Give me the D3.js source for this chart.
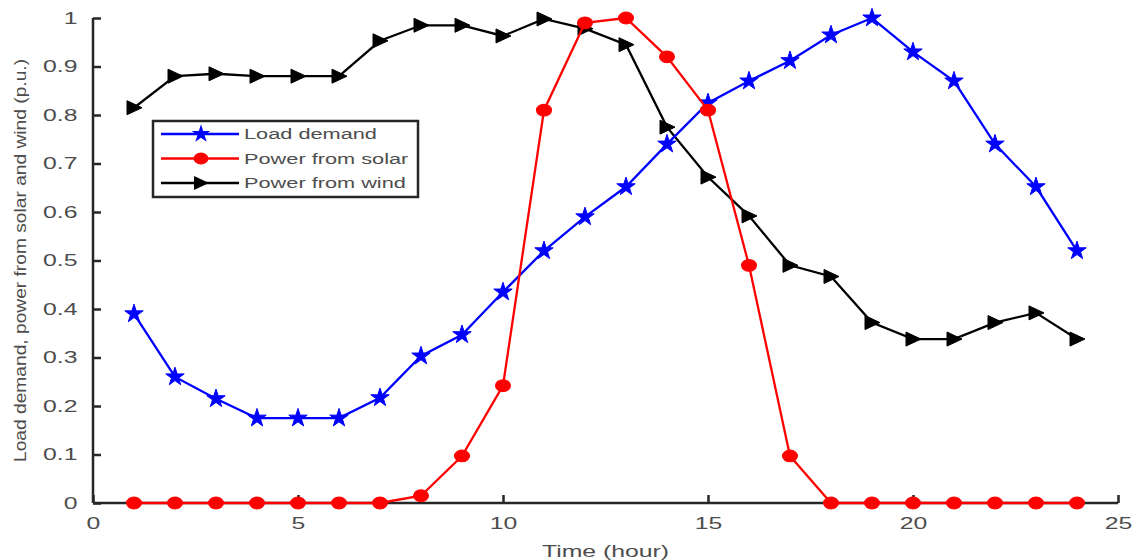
<!DOCTYPE html>
<html>
<head>
<meta charset="utf-8">
<script src="https://cdn.jsdelivr.net/npm/d3@7"></script>
<style>
  body { margin: 0; background: #fff; }
  svg text { font-family: "Liberation Sans", Arial, Helvetica, sans-serif; fill: #4d4d4d; }
</style>
</head>
<body>
<div id="chart"></div>
<script>
// hours 1..24
const hours = d3.range(1, 25);

const loadDemand = [0.39, 0.26, 0.215, 0.175, 0.175, 0.175, 0.217, 0.303, 0.347, 0.435,
    0.52, 0.59, 0.652, 0.74, 0.825, 0.87, 0.912, 0.965, 1.0, 0.93,
    0.87, 0.74, 0.652, 0.52];

const solarPower = [0, 0, 0, 0, 0, 0, 0, 0.015, 0.097, 0.242,
    0.81, 0.99, 1.0, 0.92, 0.81, 0.49, 0.097, 0, 0, 0,
    0, 0, 0, 0];

const windPower = [0.815, 0.88, 0.885, 0.88, 0.88, 0.88, 0.953, 0.985, 0.985, 0.963,
    0.998, 0.978, 0.945, 0.775, 0.672, 0.592, 0.49, 0.467, 0.372, 0.338,
    0.338, 0.372, 0.392, 0.338];

const xTicks = [0, 5, 10, 15, 20, 25];
const yTicks = d3.range(0, 11).map(d => d / 10);

const width = 1138, height = 560;
const margin = {top: 18, right: 20, bottom: 57, left: 93};
const stretch = 1.55; // text in the picture is wide

const svg = d3.select("#chart").append("svg")
    .attr("width", width)
    .attr("height", height);

const x = d3.scaleLinear().domain([0, 25]).range([margin.left, 1118]);
const y = d3.scaleLinear().domain([0, 1]).range([height - margin.bottom, margin.top]);

const axisColor = "#262626";

// axes (MATLAB style, ticks pointing inward, no box)
const xAxis = svg.append("g")
    .attr("transform", `translate(0,${y(0)})`)
    .call(d3.axisBottom(x).tickValues(xTicks).tickSize(-8).tickPadding(15).tickFormat(d3.format("d")));
const yAxis = svg.append("g")
    .attr("transform", `translate(${x(0)},0)`)
    .call(d3.axisLeft(y).tickValues(yTicks).tickSize(-8).tickPadding(10)
        .tickFormat(d => d === 0 ? "0" : d === 1 ? "1" : d3.format(".1f")(d)));

[xAxis, yAxis].forEach(g => {
    g.select(".domain").attr("stroke", axisColor).attr("stroke-width", 2.5);
    g.selectAll(".tick line").attr("stroke", axisColor).attr("stroke-width", 2.5);
    g.selectAll(".tick text")
        .style("font-size", "16px")
        .attr("fill", "#4d4d4d")
        .attr("transform", `scale(${stretch},1)`);
});
xAxis.select(".domain").attr("d", `M${x(0)},0H${x(25)}`);
yAxis.select(".domain").attr("d", `M0,${y(0)}V${y(1)}`);

// axis labels
svg.append("text")
    .attr("transform", `translate(${(x(0) + x(25)) / 2},557) scale(${stretch},1)`)
    .attr("text-anchor", "middle")
    .style("font-size", "16px")
    .text("Time (hour)");

svg.append("text")
    .attr("transform", `translate(26,${(y(0) + y(1)) / 2}) rotate(-90) scale(1.2,1)`)
    .attr("text-anchor", "middle")
    .style("font-size", "16px")
    .text("Load demand, power from solar and wind (p.u.)");

// series
const series = [
    {name: "Load demand", values: loadDemand, color: "#0000ff", marker: "star"},
    {name: "Power from solar", values: solarPower, color: "#ff0000", marker: "circle"},
    {name: "Power from wind", values: windPower, color: "#000000", marker: "triangle"}
];

const line = d3.line()
    .x((d, i) => x(hours[i]))
    .y(d => y(d));

function markerPath(type) {
    if (type === "star") return d3.symbol().type(d3.symbolStar).size(105)();
    if (type === "circle") return d3.symbol().type(d3.symbolCircle).size(110)();
    // right-pointing triangle
    return "M8,0L-7,-7L-7,7Z";
}

function markerScale(type) {
    return type === "circle" ? " scale(1.25,1)" : "";
}

const lineOrder = [series[2], series[0], series[1]];
lineOrder.forEach(s => {
    svg.append("path")
        .datum(s.values)
        .attr("fill", "none")
        .attr("stroke", s.color)
        .attr("stroke-width", 2.3)
        .attr("d", line);

    svg.selectAll(null)
        .data(s.values)
        .enter()
        .append("path")
        .attr("d", markerPath(s.marker))
        .attr("transform", (d, i) => `translate(${x(hours[i])},${y(d)})` + markerScale(s.marker))
        .attr("fill", s.color)
        .attr("stroke", s.color)
        .attr("stroke-width", 1);
});

// legend
const legend = svg.append("g").attr("transform", "translate(153,121)");
legend.append("rect")
    .attr("width", 265)
    .attr("height", 76)
    .attr("fill", "#fff")
    .attr("stroke", axisColor)
    .attr("stroke-width", 2.5);

series.forEach((s, i) => {
    const ly = 13 + i * 24.5;
    legend.append("line")
        .attr("x1", 8).attr("x2", 86)
        .attr("y1", ly).attr("y2", ly)
        .attr("stroke", s.color)
        .attr("stroke-width", 2.3);
    legend.append("path")
        .attr("d", markerPath(s.marker))
        .attr("transform", `translate(48,${ly})` + markerScale(s.marker))
        .attr("fill", s.color);
    legend.append("text")
        .attr("transform", `translate(91,${ly + 5}) scale(1.45,1)`)
        .style("font-size", "15px")
        .text(s.name);
});
</script>
</body>
</html>
